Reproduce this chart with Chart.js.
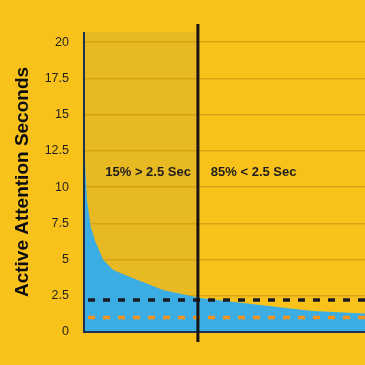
<!DOCTYPE html>
<html>
<head>
<meta charset="utf-8">
<script src="https://cdn.jsdelivr.net/npm/chart.js@4"></script>
<style>
  html, body { margin: 0; padding: 0; background: #f8c21b; }
  canvas { display: block; }
</style>
</head>
<body>
<canvas id="attentionChart" width="365" height="365"></canvas>
<script>
// share of impressions (%) vs active attention seconds
const attentionPct = [0, 0.13, 0.26, 0.4, 0.9, 1.05, 1.45, 2.5, 3.8, 6.05, 8.0, 10.4, 13.0, 14.9, 15.3, 21.8, 30.1, 37];
const attentionSec = [12.9, 12.9, 10.5, 9.1, 7.2, 7.0, 6.3, 5.0, 4.3, 3.8, 3.4, 2.9, 2.6, 2.4, 2.35, 1.95, 1.45, 1.28];

const xRange = [0, 37];
const blackLine = 2.2;
const orangeLine = 1.0;
const splitPct = 15;
const yTicks = [0, 2.5, 5, 7.5, 10, 12.5, 15, 17.5, 20];
const yMax = 20.7;
const leftLabel = "15% > 2.5 Sec";
const rightLabel = "85% < 2.5 Sec";
const labelSec = 11;
const leftLabelPct = 2.8;
const rightLabelPct = 16.7;

const areaData = attentionPct.map((p, i) => ({ x: p, y: attentionSec[i] }));
const flat = v => xRange.map(p => ({ x: p, y: v }));

// shaded part left of the split, drawn under the grid
const shadePlugin = {
  id: 'shade',
  beforeDraw(chart) {
    const { ctx, chartArea, scales } = chart;
    const x0 = scales.x.getPixelForValue(0);
    const x1 = scales.x.getPixelForValue(splitPct);
    ctx.save();
    ctx.fillStyle = '#e7b923';
    ctx.fillRect(x0, chartArea.top, x1 - x0, chartArea.bottom - chartArea.top);
    ctx.restore();
  }
};

// axes, split line and the two captions on top
const overlayPlugin = {
  id: 'overlay',
  afterDatasetsDraw(chart) {
    const { ctx, chartArea, scales } = chart;
    const xs = scales.x.getPixelForValue(splitPct);
    const y0 = scales.y.getPixelForValue(0);
    ctx.save();
    ctx.strokeStyle = '#1d3152';
    ctx.lineWidth = 2;
    ctx.beginPath();
    ctx.moveTo(chartArea.left, chartArea.top);
    ctx.lineTo(chartArea.left, y0);
    ctx.lineTo(chartArea.right, y0);
    ctx.stroke();

    ctx.strokeStyle = '#141414';
    ctx.lineWidth = 3;
    ctx.beginPath();
    ctx.moveTo(xs, chartArea.top - 8);
    ctx.lineTo(xs, y0 + 10);
    ctx.stroke();

    ctx.fillStyle = '#1e1e1e';
    ctx.font = 'bold 13px "Liberation Sans", Arial, sans-serif';
    ctx.textAlign = 'left';
    ctx.textBaseline = 'middle';
    const ty = scales.y.getPixelForValue(labelSec);
    ctx.fillText(leftLabel, scales.x.getPixelForValue(leftLabelPct), ty);
    ctx.fillText(rightLabel, scales.x.getPixelForValue(rightLabelPct), ty);
    ctx.restore();
  }
};

const ctx = document.getElementById('attentionChart').getContext('2d');
const chart = new Chart(ctx, {
  type: 'scatter',
  data: {
    datasets: [
      {
        label: 'Attention',
        data: areaData,
        showLine: true,
        fill: 'origin',
        backgroundColor: '#3bade2',
        borderWidth: 0,
        pointRadius: 0,
        tension: 0,
        order: 3
      },
      {
        label: 'Average',
        data: flat(blackLine),
        showLine: true,
        borderColor: '#1b1b24',
        borderWidth: 3.5,
        borderDash: [7, 8],
        borderDashOffset: -4,
        pointRadius: 0,
        fill: false,
        order: 2
      },
      {
        label: 'Benchmark',
        data: flat(orangeLine),
        showLine: true,
        borderColor: '#f7941d',
        borderWidth: 3.5,
        borderDash: [7, 8],
        borderDashOffset: -4,
        pointRadius: 0,
        fill: false,
        order: 1
      }
    ]
  },
  options: {
    responsive: false,
    animation: false,
    layout: { padding: { top: 32, bottom: 33, left: 0, right: 0 } },
    plugins: {
      legend: { display: false },
      tooltip: { enabled: false }
    },
    scales: {
      x: {
        type: 'linear',
        min: xRange[0],
        max: xRange[1],
        display: false
      },
      y: {
        min: 0,
        max: yMax,
        afterFit(scale) { scale.width = 84; },
        afterBuildTicks(scale) { scale.ticks = yTicks.map(v => ({ value: v })); },
        ticks: {
          padding: 15,
          color: '#1f1f1f',
          font: { family: '"Liberation Sans", Arial, sans-serif', size: 12.5 }
        },
        grid: {
          color: '#d6a317',
          lineWidth: 1.5,
          drawTicks: false
        },
        border: { display: false },
        title: {
          display: true,
          text: 'Active Attention Seconds',
          color: '#0d0d0d',
          padding: { top: 11, bottom: 0 },
          font: { family: '"Liberation Sans", Arial, sans-serif', size: 19, weight: 'bold' }
        }
      }
    }
  },
  plugins: [shadePlugin, overlayPlugin]
});
</script>
</body>
</html>
